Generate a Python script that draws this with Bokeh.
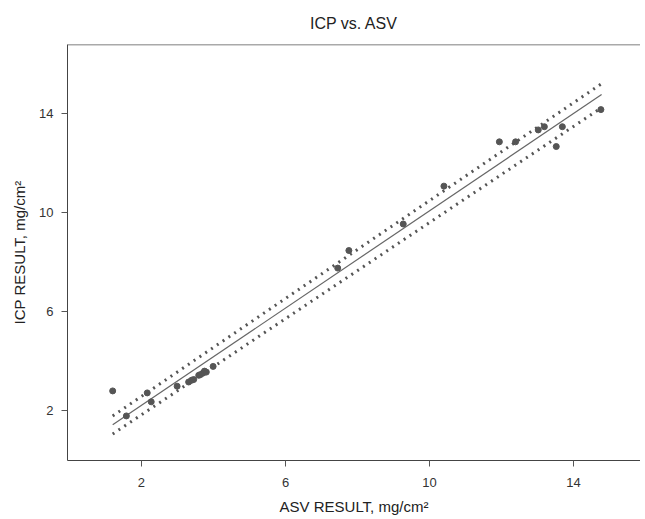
from bokeh.plotting import figure
from bokeh.models import FixedTicker, Range1d, Span
from bokeh.embed import file_html
from bokeh.resources import INLINE

# Data
asv = [1.20, 1.58, 2.16, 2.27, 2.99, 3.31, 3.39, 3.45, 3.59, 3.64, 3.71, 3.75, 3.80, 3.99,
       7.45, 7.76, 9.27, 10.40, 11.94, 12.39, 13.02, 13.19, 13.52, 13.69, 14.76]
icp = [2.81, 1.80, 2.73, 2.37, 3.00, 3.17, 3.24, 3.27, 3.44, 3.47, 3.53, 3.61, 3.57, 3.80,
       7.77, 8.48, 9.55, 11.08, 12.87, 12.87, 13.35, 13.48, 12.68, 13.48, 14.17]

fit_x = [1.20, 14.78]
fit_y = [1.44, 14.78]
upper_y = [1.80, 15.22]
lower_y = [1.07, 14.25]

x_ticks = [2, 6, 10, 14]
y_ticks = [2, 6, 10, 14]

FONT = "Liberation Sans"
Y_MAX = 16.8

p = figure(width=640, height=517, output_backend="svg", toolbar_location=None,
           x_range=Range1d(-0.055, 15.86), y_range=Range1d(0, Y_MAX),
           title="ICP vs. ASV",
           min_border_left=67, min_border_top=42, min_border_bottom=57, min_border_right=0)

p.title.align = "center"
p.title.text_font = FONT
p.title.text_font_size = "16px"
p.title.text_font_style = "normal"
p.title.text_color = "#222222"
p.title.standoff = 25

p.xgrid.visible = False
p.ygrid.visible = False
p.outline_line_color = None
p.add_layout(Span(location=Y_MAX, dimension="width", line_color="#555555", line_width=1.5))

for ax in (p.xaxis, p.yaxis):
    ax.axis_line_color = "#444444"
    ax.major_tick_line_color = "#555555"
    ax.major_tick_out = 6
    ax.major_tick_in = 0
    ax.minor_tick_line_color = None
    ax.major_label_text_font = FONT
    ax.major_label_text_font_size = "13px"
    ax.major_label_text_color = "#333333"
    ax.axis_label_text_font = FONT
    ax.axis_label_text_font_size = "15px"
    ax.axis_label_text_font_style = "normal"
    ax.axis_label_text_color = "#222222"

p.xaxis.ticker = FixedTicker(ticks=x_ticks)
p.yaxis.ticker = FixedTicker(ticks=y_ticks)
p.xaxis.axis_label = "ASV RESULT, mg/cm²"
p.yaxis.axis_label = "ICP RESULT, mg/cm²"
p.xaxis.major_label_standoff = 11
p.xaxis.axis_label_standoff = 8
p.yaxis.major_label_standoff = 8
p.yaxis.axis_label_standoff = 8

p.line(fit_x, fit_y, line_color="#666666", line_width=1.2)
p.line(fit_x, upper_y, line_color="#555555", line_width=3, line_dash="2 5")
p.line(fit_x, lower_y, line_color="#555555", line_width=3, line_dash="2 5")
p.scatter(asv, icp, size=6, fill_color="#555555", line_color="#555555")

open("out.html", "w").write(file_html(p, INLINE))
